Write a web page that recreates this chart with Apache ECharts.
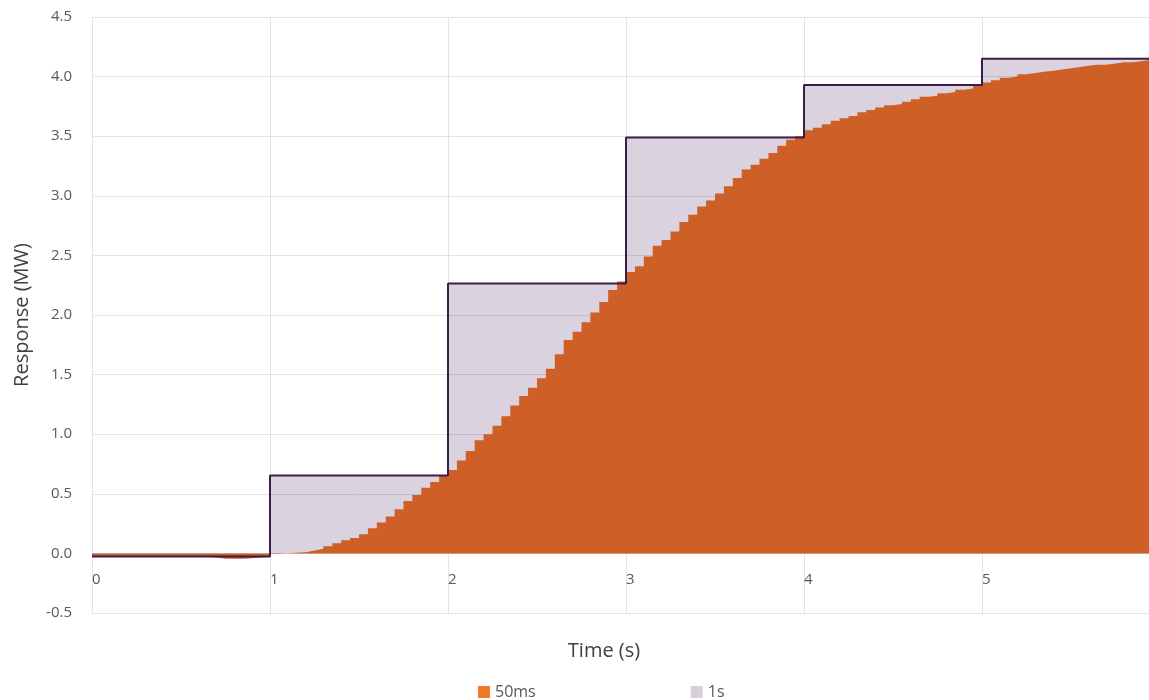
<!DOCTYPE html>
<html>
<head>
<meta charset="utf-8">
<script src="https://cdn.jsdelivr.net/npm/echarts@6/dist/echarts.min.js"></script>
<style>
html,body{margin:0;padding:0;background:#fff;}
#chart{width:1149px;height:700px;}
</style>
</head>
<body>
<div id="chart"></div>
<script>
// 50 ms sampled response (MW), one value per 0.05 s starting at t = 0
const step50ms = 0.05;
const values50ms = [
  -0.025,-0.025,-0.025,-0.025,-0.025,-0.025,-0.025,-0.025,-0.025,-0.025,
  -0.025,-0.025,-0.025,-0.035,-0.045,-0.045,-0.045,-0.04,-0.035,-0.025,
  -0.005,0.0,0.005,0.01,0.025,0.04,0.06,0.085,0.11,0.13,
  0.16,0.21,0.26,0.31,0.37,0.44,0.49,0.55,0.60,0.65,
  0.70,0.78,0.86,0.95,1.00,1.07,1.15,1.24,1.32,1.39,
  1.47,1.55,1.67,1.79,1.86,1.94,2.02,2.11,2.21,2.28,
  2.36,2.41,2.49,2.58,2.63,2.70,2.78,2.84,2.91,2.96,
  3.02,3.08,3.15,3.22,3.26,3.31,3.36,3.42,3.47,3.50,
  3.55,3.57,3.60,3.63,3.65,3.67,3.70,3.72,3.74,3.76,
  3.77,3.79,3.81,3.83,3.84,3.86,3.87,3.89,3.90,3.93,
  3.95,3.97,3.99,4.00,4.02,4.03,4.04,4.05,4.06,4.07,
  4.08,4.09,4.10,4.10,4.11,4.12,4.12,4.13,4.14,4.15
];
// 1 s sampled response (MW)
const times1s = [0, 1, 2, 3, 4, 5];
const values1s = [-0.025, 0.654, 2.265, 3.49, 3.93, 4.15];
const xEnd = 6;
const seriesNames = ['50ms', '1s'];
const xTitle = 'Time (s)';
const yTitle = 'Response (MW)';

const data50 = values50ms.map((v, i) => [+(i * step50ms).toFixed(2), v]);
data50.push([xEnd, values50ms[values50ms.length - 1]]);
const data1s = times1s.map((t, i) => [t, values1s[i]]);
data1s.push([xEnd, values1s[values1s.length - 1]]);

const FONT = '"Open Sans", "Noto Sans", sans-serif';
const chart = echarts.init(document.getElementById('chart'), null, {renderer: 'canvas'});
chart.setOption({
  animation: false,
  textStyle: {fontFamily: FONT},
  grid: {left: 92, top: 17, right: -11, bottom: 87, containLabel: false, outerBoundsMode: 'none'},
  legend: {
    left: 473, top: 679,
    itemWidth: 12, itemHeight: 12, itemGap: 155,
    icon: 'rect',
    textStyle: {fontFamily: FONT, fontSize: 16, color: '#595959'},
    data: [
      {name: seriesNames[0], itemStyle: {color: '#F27A24'}},
      {name: seriesNames[1], itemStyle: {color: '#D6CED9'}}
    ]
  },
  xAxis: {
    type: 'value', min: 0, max: xEnd, interval: 1,
    name: xTitle, nameLocation: 'middle', nameGap: 28,
    nameTextStyle: {fontFamily: FONT, fontSize: 20, color: '#404040', padding: [0, 44, 0, 0]},
    axisLine: {show: true, onZero: false, lineStyle: {color: '#E3E3E3'}},
    axisTick: {show: false},
    axisLabel: {fontFamily: FONT, fontSize: 15, color: '#595959', align: 'left', margin: -41,
      formatter: v => (v >= xEnd ? '' : String(v))},
    splitLine: {show: true, lineStyle: {color: '#E3E3E3', width: 1}}
  },
  yAxis: {
    type: 'value', min: -0.5, max: 4.5, interval: 0.5,
    name: yTitle, nameLocation: 'middle', nameGap: 60, nameRotate: 90,
    nameTextStyle: {fontFamily: FONT, fontSize: 20, color: '#404040'},
    axisLine: {show: false},
    axisTick: {show: false},
    axisLabel: {fontFamily: FONT, fontSize: 15, color: '#595959', margin: 20,
      formatter: v => v.toFixed(1)},
    splitLine: {show: true, lineStyle: {color: '#E3E3E3', width: 1}}
  },
  series: [
    {
      name: seriesNames[1], type: 'line', step: 'end', data: data1s,
      symbol: 'none', z: 2,
      lineStyle: {width: 0, opacity: 0},
      itemStyle: {color: '#D6CED9'},
      areaStyle: {color: 'rgba(70,35,95,0.2)', opacity: 1}
    },
    {
      name: seriesNames[0], type: 'line', step: 'end', data: data50,
      symbol: 'none', z: 3,
      lineStyle: {width: 0, opacity: 0},
      itemStyle: {color: '#CD5F27'},
      areaStyle: {color: '#CD5F27', opacity: 1}
    },
    {
      name: seriesNames[1] + ' outline', type: 'line', step: 'end', data: data1s,
      symbol: 'none', z: 4, silent: true,
      lineStyle: {width: 2, color: '#3A1D4C'},
      itemStyle: {color: '#3A1D4C'}
    }
  ]
});
</script>
</body>
</html>
